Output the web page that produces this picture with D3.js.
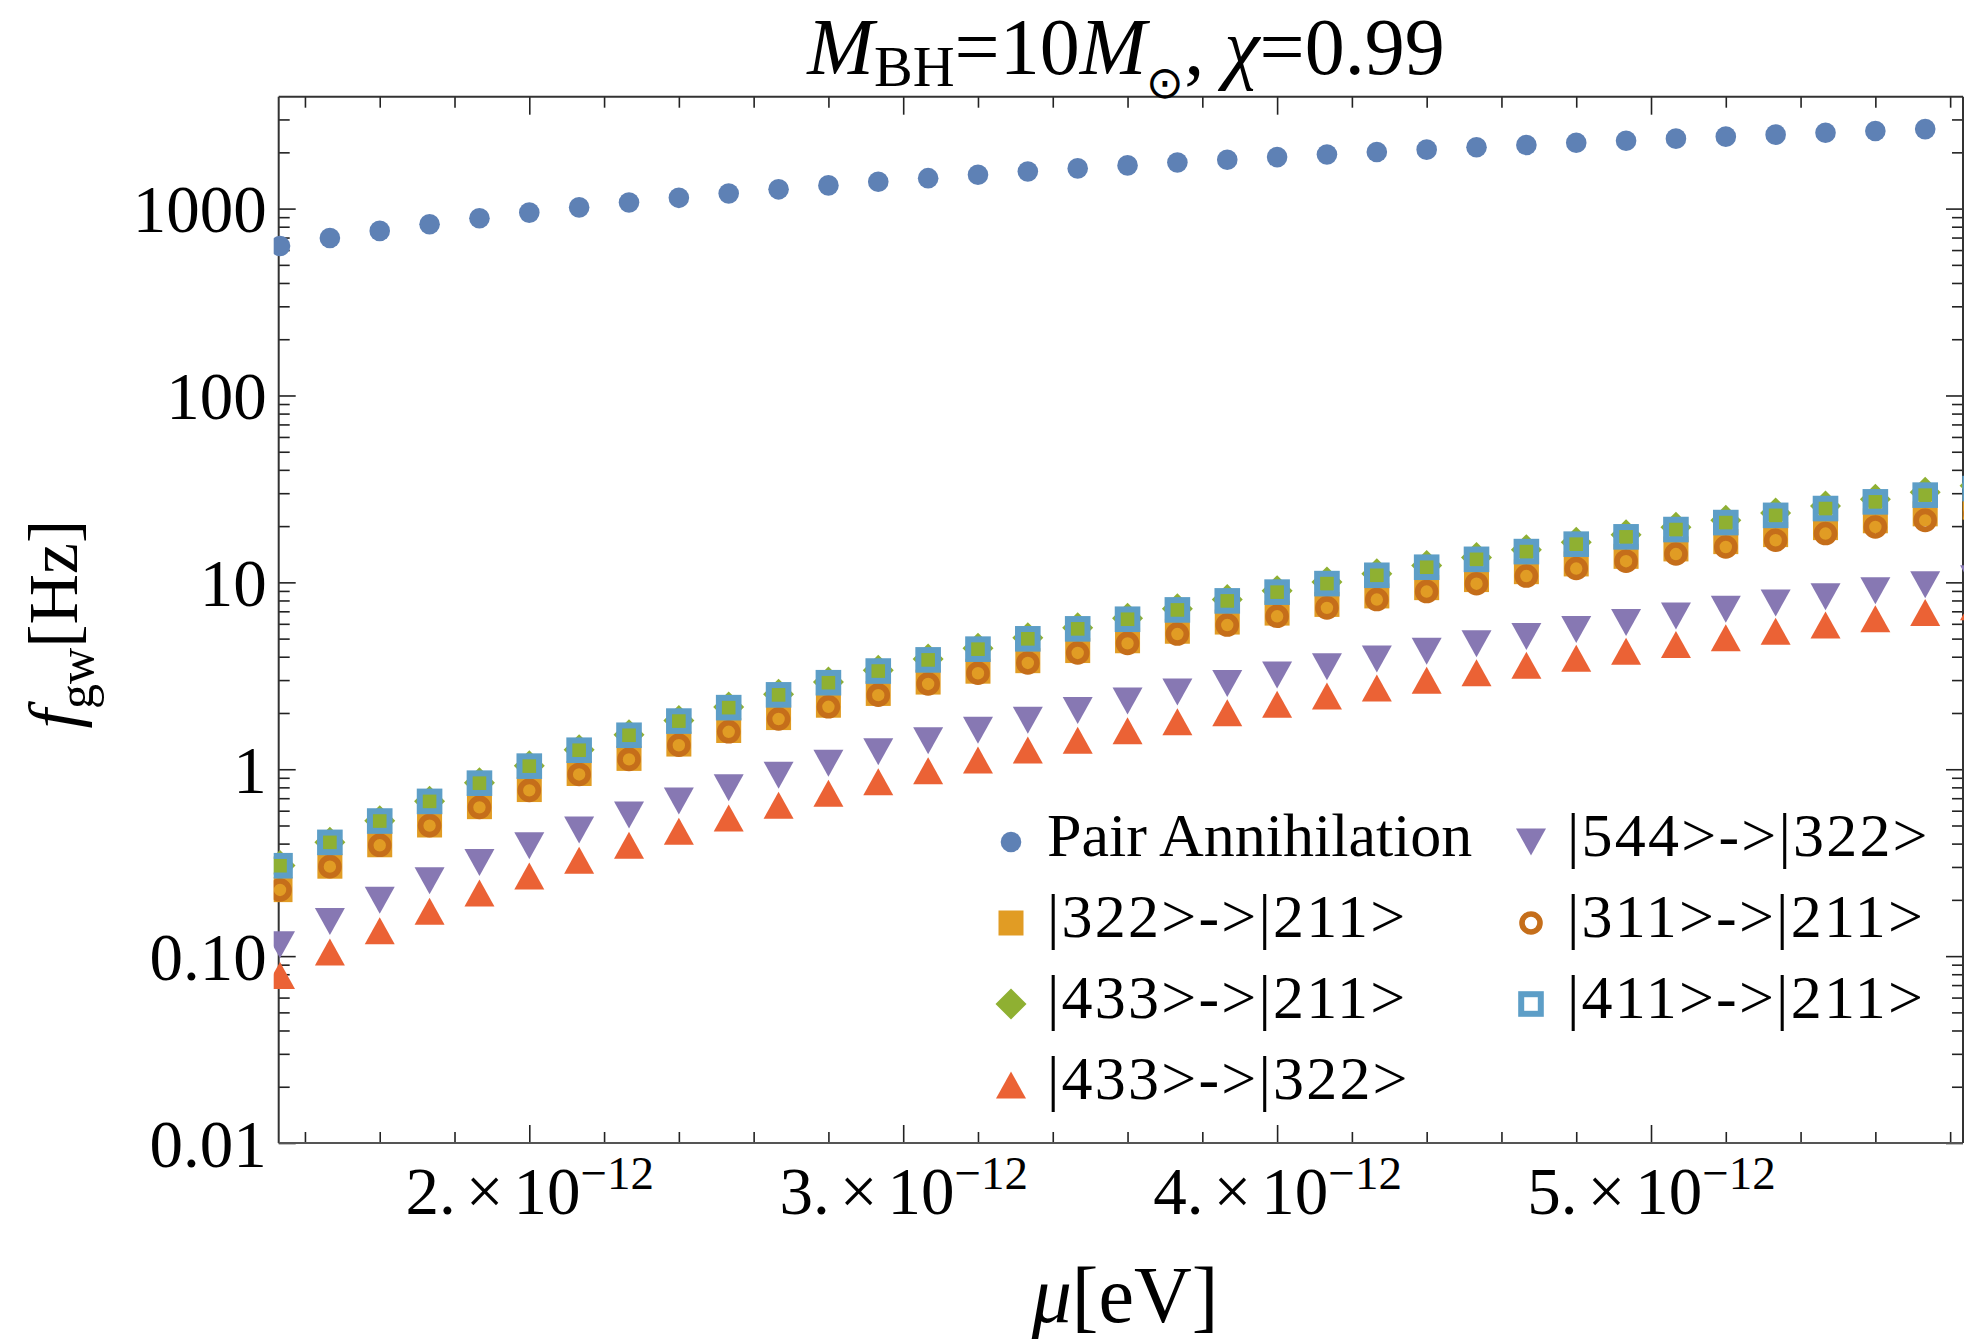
<!DOCTYPE html>
<html><head><meta charset="utf-8">
<script src="https://cdn.jsdelivr.net/npm/d3@7"></script>
<style>
html,body{margin:0;padding:0;background:#fff;}
svg{display:block;background:#fff;}
text{font-family:"Liberation Serif","Times New Roman",serif;fill:#000;}
</style></head><body>
<svg id="chart" width="1964" height="1343"></svg>
<script>
// ---------------- DATA ----------------
const mu = [1.3333e-12,1.4667e-12,1.6e-12,1.7333e-12,1.8667e-12,2.0e-12,2.1333e-12,2.2667e-12,2.4e-12,2.5333e-12,
  2.6667e-12,2.8e-12,2.9333e-12,3.0667e-12,3.2e-12,3.3333e-12,3.4667e-12,3.6e-12,3.7333e-12,3.8667e-12,
  4.0e-12,4.1333e-12,4.2667e-12,4.4e-12,4.5333e-12,4.6667e-12,4.8e-12,4.9333e-12,5.0667e-12,5.2e-12,
  5.3333e-12,5.4667e-12,5.6e-12,5.7333e-12,5.8667e-12];

const pairAnnihilation = [631,696,760,824,888,952,1015,1079,1142,1205,1268,1331,1393,1455,1517,1579,1641,1703,1764,1825,
  1886,1947,2008,2068,2129,2189,2249,2308,2368,2427,2487,2546,2604,2663,2721];
const t322to211 = [0.2269,0.3028,0.3943,0.5031,0.6306,0.7786,0.9489,1.143,1.364,1.612,1.890,2.201,2.545,2.927,3.347,3.810,
  4.316,4.870,5.475,6.132,6.847,7.622,8.461,9.369,10.35,11.41,12.55,13.78,15.10,16.52,18.01,19.63,21.36,23.26,25.25];
const t433to211 = [0.3052,0.4070,0.5296,0.6751,0.8454,1.043,1.270,1.528,1.821,2.150,2.519,2.929,3.383,3.886,4.439,5.046,
  5.711,6.436,7.227,8.086,9.017,10.03,11.12,12.30,13.57,14.95,16.40,17.98,19.70,21.49,23.52,25.62,27.86,30.32,32.92];
const t433to322 = [0.0788,0.1051,0.1366,0.1739,0.2175,0.2680,0.3258,0.3915,0.4657,0.5488,0.6415,0.7443,0.8578,0.9827,1.119,
  1.269,1.431,1.607,1.798,2.004,2.225,2.464,2.719,2.992,3.285,3.596,3.928,4.281,4.656,5.054,5.476,5.921,6.393,6.890,7.410];
const t544to322 = [0.1150,0.1532,0.1991,0.2533,0.3167,0.3899,0.4737,0.5689,0.6761,0.7963,0.9300,1.078,1.242,1.421,1.617,
  1.831,2.063,2.315,2.587,2.880,3.195,3.532,3.894,4.280,4.692,5.130,5.597,6.091,6.615,7.171,7.756,8.376,9.030,9.718,10.44];
const t311to211 = [0.2259,0.3012,0.3918,0.4993,0.6251,0.7708,0.9381,1.129,1.344,1.586,1.857,2.158,2.491,2.859,3.263,3.705,
  4.189,4.716,5.288,5.909,6.581,7.306,8.089,8.931,9.837,10.81,11.86,12.98,14.18,15.46,16.80,18.25,19.79,21.47,23.23];
const t411to211 = [0.3046,0.4061,0.5282,0.6729,0.8423,1.039,1.264,1.520,1.810,2.136,2.500,2.904,3.353,3.847,4.391,4.987,
  5.638,6.348,7.121,7.958,8.866,9.848,10.91,12.05,13.28,14.61,16.01,17.52,19.17,20.89,22.83,24.83,26.96,29.29,31.75];

const seriesNames = ["Pair Annihilation","|322>->|211>","|433>->|211>","|433>->|322>","|544>->|322>","|311>->|211>","|411>->|211>"];
const seriesColors = ["#5E81B5","#E19C24","#8FB032","#EB6235","#8778B3","#C56E1A","#5D9EC7"];
const seriesShapes = ["dot","square","diamond","triUp","triDown","ring","openSquare"];

const xMajorTicks = [2e-12,3e-12,4e-12,5e-12];
const xTickMantissas = ["2.","3.","4.","5."];
const xTickExponent = "\u221212";
const yMajorTicks = [0.01,0.1,1,10,100,1000];
const yTickLabels = ["0.01","0.10","1","10","100","1000"];

// ---------------- LAYOUT ----------------
const L = 278.7, R = 1963, T = 96.7, B = 1143;
const svg = d3.select("#chart");
svg.append("rect").attr("width",1964).attr("height",1343).attr("fill","#fff");

const x = d3.scaleLinear().domain([1.3298e-12, 5.8344e-12]).range([L, R]);
const y = d3.scaleLog().domain([0.01, 3970]).range([B, T]);

const xMinor = d3.range(7, 30).map(k => k*0.2e-12).filter(v => Math.abs(v*1e12 - Math.round(v*1e12)) > 1e-6);
const yMinor = [];
[0.01,0.1,1,10,100,1000].forEach(d => { for (let k = 2; k <= 9; k++) { const v = d*k; if (v < 3970) yMinor.push(v); } });

function styleAxis(g){
  g.select(".domain").remove();
  g.attr("font-family", null).attr("font-size", null);
  g.selectAll(".tick line").attr("stroke","#222").attr("stroke-width",1.6);
}

// bottom
svg.append("g").attr("transform",`translate(0,${B})`).call(d3.axisBottom(x).tickValues(xMinor).tickSize(-11).tickFormat("")).call(styleAxis);
const gxb = svg.append("g").attr("transform",`translate(0,${B})`)
  .call(d3.axisBottom(x).tickValues(xMajorTicks).tickSize(-18).tickFormat((d,i)=>xTickMantissas[i])).call(styleAxis);
gxb.selectAll(".tick text").each(function(d,i){
  const t = d3.select(this);
  t.text(null).attr("y", 71).attr("dy", null).attr("font-size", 67).attr("fill","#000").attr("text-anchor","middle");
  t.append("tspan").text(xTickMantissas[i]);
  t.append("tspan").attr("dx", 10).text("\u00D7");
  t.append("tspan").attr("dx", 10).text("10");
  t.append("tspan").attr("dy", -25).attr("font-size", 47).text(xTickExponent);
});
// top
svg.append("g").attr("transform",`translate(0,${T})`).call(d3.axisTop(x).tickValues(xMinor).tickSize(-11).tickFormat("")).call(styleAxis);
svg.append("g").attr("transform",`translate(0,${T})`).call(d3.axisTop(x).tickValues(xMajorTicks).tickSize(-18).tickFormat("")).call(styleAxis);
// left
svg.append("g").attr("transform",`translate(${L},0)`).call(d3.axisLeft(y).tickValues(yMinor).tickSize(-11).tickFormat("")).call(styleAxis);
const gyl = svg.append("g").attr("transform",`translate(${L},0)`)
  .call(d3.axisLeft(y).tickValues(yMajorTicks).tickSize(-17).tickFormat((d,i)=>yTickLabels[i])).call(styleAxis);
gyl.selectAll(".tick text").attr("x", -12).attr("dy", null).attr("y", 23).attr("font-size", 67).attr("fill","#000").attr("text-anchor","end");
// right
svg.append("g").attr("transform",`translate(${R},0)`).call(d3.axisRight(y).tickValues(yMinor).tickSize(-11).tickFormat("")).call(styleAxis);
svg.append("g").attr("transform",`translate(${R},0)`).call(d3.axisRight(y).tickValues(yMajorTicks).tickSize(-17).tickFormat("")).call(styleAxis);

// frame
const frame = svg.append("g").attr("stroke","#333").attr("stroke-width",2).attr("fill","none");
frame.append("line").attr("x1",L).attr("y1",T).attr("x2",L).attr("y2",B);
frame.append("line").attr("x1",L).attr("y1",B).attr("x2",R).attr("y2",B).attr("stroke","#555");
frame.append("line").attr("x1",L).attr("y1",T).attr("x2",R).attr("y2",T);
frame.append("line").attr("x1",R).attr("y1",T).attr("x2",R).attr("y2",B);

// ---------------- MARKERS ----------------
function drawMarker(g, shape, color, cx, cy){
  switch(shape){
    case "dot": g.append("circle").attr("cx",cx).attr("cy",cy).attr("r",10.3).attr("fill",color); break;
    case "square": g.append("rect").attr("x",cx-12.5).attr("y",cy-12.5).attr("width",25).attr("height",25).attr("fill",color); break;
    case "diamond": g.append("path").attr("d",`M${cx},${cy-15.5}L${cx+15.5},${cy}L${cx},${cy+15.5}L${cx-15.5},${cy}Z`).attr("fill",color); break;
    case "triUp": g.append("path").attr("d",`M${cx},${cy-13.5}L${cx+15},${cy+13.5}L${cx-15},${cy+13.5}Z`).attr("fill",color); break;
    case "triDown": g.append("path").attr("d",`M${cx-15},${cy-13.5}L${cx+15},${cy-13.5}L${cx},${cy+13.5}Z`).attr("fill",color); break;
    case "ring": g.append("circle").attr("cx",cx).attr("cy",cy).attr("r",9).attr("fill","none").attr("stroke",color).attr("stroke-width",5.6); break;
    case "openSquare": g.append("rect").attr("x",cx-9.8).attr("y",cy-9.8).attr("width",19.6).attr("height",19.6).attr("fill","none").attr("stroke",color).attr("stroke-width",6); break;
  }
}

svg.append("defs").append("clipPath").attr("id","plotclip").append("rect")
  .attr("x", L-5).attr("y", 0).attr("width", 1964).attr("height", 1343);
const plot = svg.append("g").attr("clip-path","url(#plotclip)");
const allSeries = [pairAnnihilation, t322to211, t433to211, t433to322, t544to322, t311to211, t411to211];
allSeries.forEach((vals, si) => {
  const g = plot.append("g");
  vals.forEach((v, i) => drawMarker(g, seriesShapes[si], seriesColors[si], x(mu[i]), y(v)));
});

// ---------------- LEGEND ----------------
const legCols = [{mx:1011, tx:1047},{mx:1531, tx:1567}];
const legRows = [842, 923, 1004, 1085];
const leg = svg.append("g");
seriesNames.forEach((name, i) => {
  const col = i < 4 ? 0 : 1, row = i < 4 ? i : i - 4;
  drawMarker(leg, seriesShapes[i], seriesColors[i], legCols[col].mx, legRows[row]);
  const t = leg.append("text").attr("x", legCols[col].tx).attr("y", legRows[row] + 14)
    .attr("font-size", 62).text(name);
  if (i > 0) t.attr("letter-spacing", 2.2);
});

// ---------------- TITLES ----------------
const title = svg.append("text").attr("x", 1126).attr("y", 74).attr("text-anchor","middle").attr("font-size", 80);
title.append("tspan").attr("font-style","italic").text("M");
title.append("tspan").attr("font-size", 58).attr("dy", 12).text("BH");
title.append("tspan").attr("dy", -12).text("=10");
title.append("tspan").attr("font-style","italic").text("M");
title.append("tspan").attr("font-size", 45).attr("dy", 24).text("\u2299");
title.append("tspan").attr("dy", -24).text(", ");
title.append("tspan").attr("font-style","italic").text("\u03C7");
title.append("tspan").text("=0.99");

const xl = svg.append("text").attr("x", 1125).attr("y", 1322).attr("text-anchor","middle").attr("font-size", 80);
xl.append("tspan").attr("font-style","italic").text("\u03BC");
xl.append("tspan").text("[eV]");

const yl = svg.append("text").attr("transform","translate(77,624) rotate(-90)").attr("text-anchor","middle").attr("font-size", 70);
yl.append("tspan").attr("font-style","italic").text("f");
yl.append("tspan").attr("font-size", 50).attr("dy", 16).text("gw");
yl.append("tspan").attr("dy", -16).text("[Hz]");
</script>
</body></html>
